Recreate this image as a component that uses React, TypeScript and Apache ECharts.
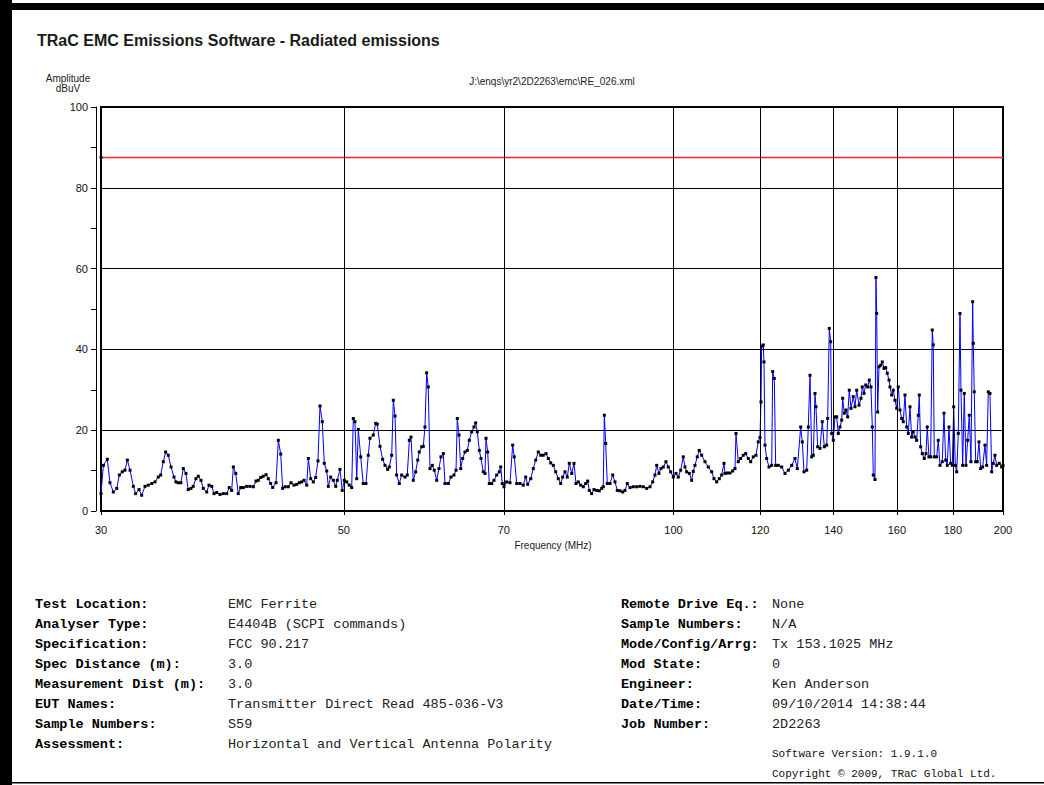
import React, { useEffect, useRef } from "react";
import * as echarts from "echarts";

// ---------- data ----------
const xTickValues = [30, 50, 70, 100, 120, 140, 160, 180, 200];
const xGridValues = [50, 70, 100, 120, 140, 160, 180];
const limitLevel = 87.5;
const limitLine = [[30, 87.5], [200, 87.5]];

// [frequency MHz, amplitude dBuV]
const band30to55 = [
  [30.0, 4.3], [30.15, 11.3], [30.4, 12.8], [30.57, 7.0], [30.79, 4.7], [31.01, 5.6], [31.18, 8.9], [31.37, 9.7],
  [31.55, 10.1], [31.71, 12.6], [31.89, 10.1], [32.11, 6.1], [32.27, 4.3], [32.5, 5.3], [32.68, 3.9], [32.91, 6.1],
  [33.14, 6.4], [33.38, 6.8], [33.61, 7.2], [33.84, 8.4], [34.01, 8.9], [34.2, 12.2], [34.37, 14.6], [34.56, 13.8],
  [34.76, 10.9], [34.98, 8.4], [35.12, 7.2], [35.29, 7.0], [35.49, 7.0], [35.67, 10.5], [35.87, 9.3], [36.04, 5.3],
  [36.25, 5.6], [36.42, 6.1], [36.63, 8.0], [36.81, 8.6], [37.02, 7.6], [37.2, 5.6], [37.47, 4.7], [37.65, 6.4],
  [37.87, 6.1], [38.05, 4.3], [38.27, 4.6], [38.53, 4.1], [38.8, 4.3], [39.08, 4.3], [39.29, 5.8], [39.49, 5.1],
  [39.63, 10.9], [39.83, 9.3], [40.04, 4.3], [40.25, 5.8], [40.47, 5.8], [40.76, 6.1], [41.04, 6.1], [41.33, 6.0],
  [41.56, 7.4], [41.76, 7.6], [41.98, 8.3], [42.2, 8.6], [42.45, 9.0], [42.65, 8.0], [42.87, 6.8], [43.05, 5.8],
  [43.35, 7.0], [43.56, 17.5], [43.78, 14.1], [43.96, 5.6], [44.18, 6.0], [44.48, 6.0], [44.74, 7.0], [45.02, 6.4],
  [45.28, 6.6], [45.53, 7.0], [45.76, 7.2], [45.98, 7.6], [46.24, 6.4], [46.4, 13.0], [46.63, 8.0], [46.89, 7.2],
  [47.12, 8.3], [47.35, 12.4], [47.55, 26.0], [47.78, 22.1], [47.98, 11.8], [48.23, 9.9], [48.39, 6.1], [48.63, 8.4],
  [48.9, 7.6], [49.15, 6.1], [49.31, 7.6], [49.59, 10.3], [49.83, 5.1], [50.04, 7.6], [50.3, 7.2], [50.57, 6.4],
  [50.83, 5.8], [51.0, 22.9], [51.18, 22.1], [51.37, 8.0], [51.54, 20.2], [51.8, 13.4], [52.08, 6.8], [52.38, 6.8],
  [52.63, 13.8], [52.82, 18.0], [53.19, 18.8], [53.46, 21.7], [53.64, 21.5], [53.95, 16.0], [54.25, 12.8], [54.52, 11.3],
  [54.83, 10.3],
];

const band55to106 = [
  [55.01, 10.9], [55.29, 13.8], [55.48, 27.4], [55.68, 23.5], [55.87, 8.9], [56.18, 6.8], [56.46, 8.9], [56.86, 8.4],
  [57.13, 8.9], [57.38, 17.5], [57.58, 18.3], [57.86, 7.6], [58.15, 9.7], [58.4, 12.6], [58.59, 14.6], [58.89, 15.9],
  [59.09, 16.0], [59.3, 20.8], [59.51, 34.2], [59.71, 30.7], [59.93, 10.5], [60.22, 11.3], [60.47, 10.1], [60.78, 7.6],
  [61.07, 10.5], [61.33, 13.4], [61.63, 14.2], [61.85, 6.8], [62.28, 6.8], [62.63, 8.4], [63.03, 8.9], [63.3, 10.1],
  [63.47, 22.9], [63.7, 18.8], [63.93, 10.5], [64.19, 13.0], [64.5, 14.6], [64.82, 15.0], [65.09, 17.5], [65.42, 19.6],
  [65.74, 20.8], [65.97, 21.8], [66.2, 19.6], [66.48, 15.0], [66.71, 13.0], [67.04, 9.7], [67.28, 9.3], [67.42, 18.0],
  [67.66, 14.6], [67.89, 6.8], [68.23, 6.8], [68.56, 7.6], [68.95, 8.9], [69.33, 9.7], [69.54, 10.9], [69.77, 6.8],
  [70.02, 6.0], [70.42, 7.2], [70.91, 7.0], [71.31, 16.3], [71.55, 13.4], [71.92, 6.8], [72.42, 6.8], [72.92, 6.4],
  [73.29, 8.4], [73.6, 6.6], [74.07, 8.0], [74.47, 10.5], [74.85, 12.6], [75.26, 14.6], [75.64, 13.8], [76.05, 13.8],
  [76.49, 14.2], [76.86, 13.0], [77.25, 11.9], [77.67, 11.3], [78.06, 9.7], [78.49, 8.0], [78.89, 6.8], [79.22, 8.4],
  [79.6, 9.7], [79.99, 8.4], [80.33, 11.8], [80.74, 9.3], [81.13, 11.8], [81.47, 6.8], [81.86, 7.2], [82.28, 6.4],
  [82.73, 6.0], [83.15, 6.8], [83.5, 7.4], [83.78, 5.1], [84.2, 4.3], [84.61, 5.3], [85.09, 5.1], [85.56, 5.0],
  [85.99, 5.6], [86.28, 6.0], [86.47, 23.7], [86.72, 16.7], [87.01, 6.8], [87.51, 6.8], [88.01, 8.9], [88.43, 7.2],
  [88.86, 5.1], [89.37, 5.0], [89.88, 4.7], [90.31, 5.1], [90.75, 6.8], [91.27, 5.8], [91.9, 6.0], [92.56, 6.0],
  [93.2, 6.1], [93.85, 6.0], [94.53, 5.6], [95.19, 6.0], [95.73, 7.2], [96.19, 8.9], [96.54, 11.3], [97.0, 9.3],
  [97.41, 10.5], [97.89, 10.9], [98.44, 12.2], [98.92, 10.9], [99.42, 9.7], [99.97, 8.4], [100.54, 9.3], [101.02, 8.4],
  [101.53, 10.1], [102.09, 13.4], [102.46, 10.9], [102.82, 9.7], [103.39, 9.3], [103.91, 7.6], [104.26, 9.8], [104.63, 11.3],
  [105.14, 13.4], [105.58, 15.0],
];

const band106to150 = [
  [106.12, 13.8], [106.86, 12.2], [107.6, 10.9], [108.37, 9.7], [108.9, 8.0], [109.52, 7.2], [110.12, 8.0], [110.68, 8.9],
  [111.22, 11.8], [111.45, 9.3], [111.99, 9.4], [112.63, 9.4], [113.27, 9.9], [113.82, 10.5], [114.06, 19.2], [114.61, 12.2],
  [115.19, 13.0], [115.82, 13.8], [116.41, 14.2], [117.05, 13.0], [117.64, 12.2], [118.28, 13.4], [118.96, 13.8], [119.53, 17.1],
  [119.96, 18.2], [120.22, 27.0], [120.39, 40.8], [120.8, 41.1], [120.98, 36.9], [121.23, 16.3], [121.67, 13.0], [122.26, 10.9],
  [122.96, 11.3], [123.21, 34.5], [123.63, 32.8], [123.99, 11.3], [124.67, 11.3], [125.57, 10.9], [126.44, 9.3], [127.33, 10.1],
  [128.24, 11.3], [129.13, 13.0], [129.76, 10.5], [130.69, 20.8], [131.13, 17.1], [131.6, 9.7], [132.35, 10.1], [132.79, 20.8],
  [133.27, 33.6], [133.75, 13.4], [134.2, 13.8], [134.68, 29.1], [134.96, 25.8], [135.44, 15.9], [136.1, 15.5], [136.76, 22.1],
  [137.34, 15.9], [138.03, 16.3], [138.32, 22.9], [138.79, 45.2], [139.2, 41.9], [139.49, 19.2], [139.96, 17.5], [140.46, 23.3],
  [140.97, 23.3], [141.44, 19.2], [141.95, 20.8], [142.45, 22.5], [142.75, 27.9], [143.24, 24.2], [143.75, 25.0], [144.26, 23.3],
  [144.75, 29.9], [145.27, 25.4], [145.97, 28.3], [146.5, 25.8], [147.02, 29.9], [147.74, 26.2], [148.36, 27.9], [148.76, 30.7],
  [149.3, 29.1], [149.83, 31.2],
];

const band150to200 = [
  [150.46, 30.7], [150.97, 32.4], [151.51, 30.7], [151.93, 20.8], [152.25, 8.9], [152.79, 7.8], [153.1, 57.8], [153.34, 48.9],
  [153.66, 24.5], [154.08, 35.7], [154.64, 36.1], [155.16, 36.9], [155.71, 35.3], [156.27, 35.5], [156.79, 34.1], [157.36, 32.4],
  [157.69, 30.7], [158.25, 28.7], [158.78, 29.9], [159.35, 27.4], [159.92, 25.4], [160.46, 30.7], [161.04, 25.0], [161.61, 22.9],
  [162.16, 22.1], [162.74, 28.7], [163.33, 20.8], [163.88, 19.2], [164.46, 25.8], [165.05, 18.3], [165.61, 19.6], [166.2, 18.3],
  [166.79, 17.5], [167.36, 23.7], [167.71, 28.7], [168.2, 15.9], [168.77, 14.2], [169.48, 13.0], [170.09, 14.2], [170.55, 20.8],
  [171.16, 13.4], [171.77, 13.4], [172.35, 44.8], [172.72, 41.1], [173.08, 13.4], [173.96, 13.4], [174.54, 17.5], [175.17, 11.3],
  [176.02, 12.2], [176.65, 24.2], [177.28, 12.6], [177.88, 11.3], [178.52, 20.8], [179.15, 11.8], [179.77, 11.3], [180.3, 25.8],
  [180.9, 11.3], [181.44, 9.7], [182.05, 19.2], [182.7, 48.9], [183.08, 29.9], [183.74, 11.3], [184.36, 29.1], [185.01, 11.3],
  [185.67, 17.5], [186.3, 23.7], [186.97, 12.2], [187.64, 51.8], [187.88, 41.5], [188.27, 29.5], [188.83, 12.2], [189.46, 12.2],
  [190.14, 17.1], [190.82, 10.5], [191.62, 10.9], [192.56, 16.3], [193.24, 11.3], [193.9, 29.5], [194.59, 29.1], [195.29, 9.7],
  [195.94, 11.8], [196.64, 13.8], [197.35, 11.3], [198.43, 11.8], [199.45, 10.9], [200.0, 11.3],
];

const leftLabels = [
  "Test Location:", "Analyser Type:", "Specification:", "Spec Distance (m):",
  "Measurement Dist (m):", "EUT Names:", "Sample Numbers:", "Assessment:",
];
const leftValues = [
  "EMC Ferrite", "E4404B (SCPI commands)", "FCC 90.217", "3.0",
  "3.0", "Transmitter Direct Read 485-036-V3", "S59", "Horizontal and Vertical Antenna Polarity",
];
const rightLabels = [
  "Remote Drive Eq.:", "Sample Numbers:", "Mode/Config/Arrg:", "Mod State:",
  "Engineer:", "Date/Time:", "Job Number:",
];
const rightValues = [
  "None", "N/A", "Tx 153.1025 MHz", "0", "Ken Anderson", "09/10/2014 14:38:44", "2D2263",
];

const MONO = '"Liberation Mono", "Courier New", monospace';
const SANS = '"Liberation Sans", Arial, sans-serif';

export default function App() {
  const ref = useRef<HTMLDivElement>(null);

  useEffect(() => {
    if (!ref.current) return;
    const chart = echarts.init(ref.current, null, { renderer: "svg" });
    const trace = [...band30to55, ...band55to106, ...band106to150, ...band150to200];

    const graphics: any[] = [
      { type: "rect", shape: { x: 0, y: 0, width: 12, height: 785 }, style: { fill: "#000" } },
      { type: "rect", shape: { x: 0, y: 3, width: 1044, height: 7 }, style: { fill: "#000" } },
      { type: "rect", shape: { x: 0, y: 782, width: 1044, height: 1.5 }, style: { fill: "#000" } },
      {
        type: "text", x: 37, y: 40,
        style: { text: "TRaC EMC Emissions Software - Radiated emissions", font: `bold 16px ${SANS}`, fill: "#1a1a1a", verticalAlign: "middle" },
      },
      { type: "text", x: 68, y: 78, style: { text: "Amplitude", font: `10px ${SANS}`, fill: "#222", align: "center", verticalAlign: "middle" } },
      { type: "text", x: 68, y: 88, style: { text: "dBuV", font: `10px ${SANS}`, fill: "#222", align: "center", verticalAlign: "middle" } },
      {
        type: "text", x: 552, y: 81,
        style: { text: "J:\\enqs\\yr2\\2D2263\\emc\\RE_026.xml", font: `10px ${SANS}`, fill: "#222", align: "center", verticalAlign: "middle" },
      },
      { type: "text", x: 553, y: 545, style: { text: "Frequency (MHz)", font: `10px ${SANS}`, fill: "#222", align: "center", verticalAlign: "middle" } },
      { type: "text", x: 772, y: 754, style: { text: "Software Version: 1.9.1.0", font: `11px ${MONO}`, fill: "#111", verticalAlign: "middle" } },
      { type: "text", x: 772, y: 774, style: { text: "Copyright \u00A9 2009, TRaC Global Ltd.", font: `11px ${MONO}`, fill: "#111", verticalAlign: "middle" } },
    ];
    leftLabels.forEach((t, i) => {
      graphics.push({ type: "text", x: 35, y: 604 + i * 20.1, style: { text: t, font: `bold 13.5px ${MONO}`, fill: "#000", verticalAlign: "middle" } });
      graphics.push({ type: "text", x: 228, y: 604 + i * 20.1, style: { text: leftValues[i], font: `13.5px ${MONO}`, fill: "#222", verticalAlign: "middle" } });
    });
    rightLabels.forEach((t, i) => {
      graphics.push({ type: "text", x: 621, y: 604 + i * 20.1, style: { text: t, font: `bold 13.5px ${MONO}`, fill: "#000", verticalAlign: "middle" } });
      graphics.push({ type: "text", x: 772, y: 604 + i * 20.1, style: { text: rightValues[i], font: `13.5px ${MONO}`, fill: "#222", verticalAlign: "middle" } });
    });

    chart.setOption({
      animation: false,
      backgroundColor: "#fff",
      color: ["#ff0000", "#0000ff", "#000000"],
      grid: {
        left: 101, top: 107, width: 902, height: 404,
        show: true, borderColor: "#000", borderWidth: 2, backgroundColor: "transparent",
      },
      xAxis: {
        type: "log", logBase: 10, min: 30, max: 200, offset: 5,
        axisLine: { show: true, lineStyle: { color: "#000", width: 1 } },
        axisTick: { show: true, length: 4, customValues: xTickValues, lineStyle: { color: "#000" } },
        axisLabel: {
          customValues: xTickValues, color: "#111", fontSize: 11, fontFamily: SANS, margin: 8,
          formatter: (v: number) => String(Math.round(v)),
        },
        splitLine: { show: false },
        minorTick: { show: false },
      },
      yAxis: {
        type: "value", min: 0, max: 100, interval: 20, offset: 5,
        axisLine: { show: true, lineStyle: { color: "#000", width: 1 } },
        axisTick: { show: true, length: 5, lineStyle: { color: "#000" } },
        minorTick: { show: true, splitNumber: 2, length: 5, lineStyle: { color: "#000" } },
        axisLabel: { color: "#111", fontSize: 11, fontFamily: SANS, margin: 8 },
        splitLine: { show: true, lineStyle: { color: "#000", width: 1 } },
      },
      series: [
        {
          name: "limit", type: "line", z: 2, silent: true,
          data: limitLine, showSymbol: false, symbol: "none",
          itemStyle: { color: "#ff0000" },
          lineStyle: { color: "#ff2020", width: 1.6, type: "solid", opacity: 1 },
          markLine: {
            silent: true, symbol: "none", label: { show: false },
            lineStyle: { color: "#000", width: 1, type: "solid" },
            data: xGridValues.map((f) => ({ xAxis: f })),
          },
        },
        {
          name: "trace", type: "line", z: 3, silent: true,
          data: trace,
          symbol: "rect", symbolSize: 3, showAllSymbol: true,
          itemStyle: { color: "#000" },
          lineStyle: { color: "#0000ff", width: 1 },
        },
        {
          name: "limitMarker", type: "scatter", z: 4, silent: true,
          data: [[30, limitLevel]], symbol: "rect", symbolSize: 3,
          itemStyle: { color: "#000" },
        },
      ],
      graphic: graphics,
    });
    return () => chart.dispose();
  }, []);

  return (
    <div
      ref={ref}
      style={{ position: "fixed", left: 0, top: 0, width: 1044, height: 785, background: "#fff" }}
    />
  );
}
